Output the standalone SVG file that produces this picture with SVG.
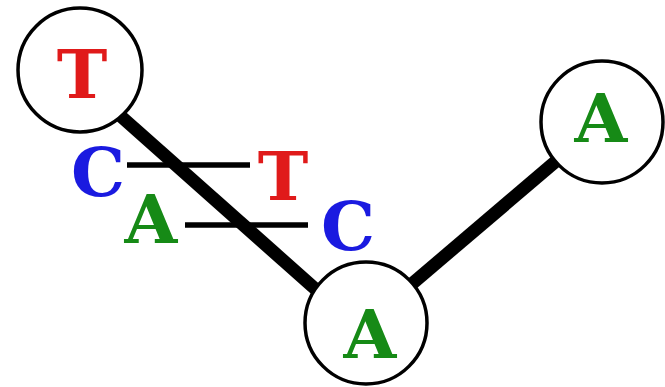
<svg xmlns="http://www.w3.org/2000/svg" width="665" height="387" viewBox="0 0 665 387">
<style>
.node circle{fill:#fff;stroke:#000;stroke-width:3.5}
text{font-family:"DejaVu Serif","Liberation Serif",serif;font-weight:bold;font-size:68px;text-anchor:middle}
.r{fill:#e01a1a}.g{fill:#168a16}.b{fill:#1a1ae0}
.thick{stroke:#000;stroke-width:13;fill:none}
.thin{stroke:#000;stroke-width:5.5;fill:none}
</style>
<rect width="665" height="387" fill="#fff"/>
<g id="connectors">
<line class="thick" x1="80" y1="80" x2="366" y2="334"/>
<line class="thick" x1="366" y1="323" x2="602" y2="122"/>
<line class="thin" x1="127" y1="165" x2="250" y2="165"/>
<line class="thin" x1="185" y1="225" x2="308" y2="225"/>
</g>
<g id="node-T"><g class="node"><circle cx="80" cy="70" r="62"/></g><text class="r" x="82" y="98">T</text></g>
<g id="node-A-right"><g class="node"><circle cx="602" cy="122" r="61"/></g><text class="g" x="601" y="142">A</text></g>
<g id="node-A-bottom"><g class="node"><circle cx="366" cy="323" r="61"/></g><text class="g" x="370" y="358">A</text></g>
<g id="labels">
<text class="b" x="98" y="196">C</text>
<text class="r" x="283" y="200">T</text>
<text class="g" x="151" y="243">A</text>
<text class="b" x="348" y="250">C</text>
</g>
</svg>
